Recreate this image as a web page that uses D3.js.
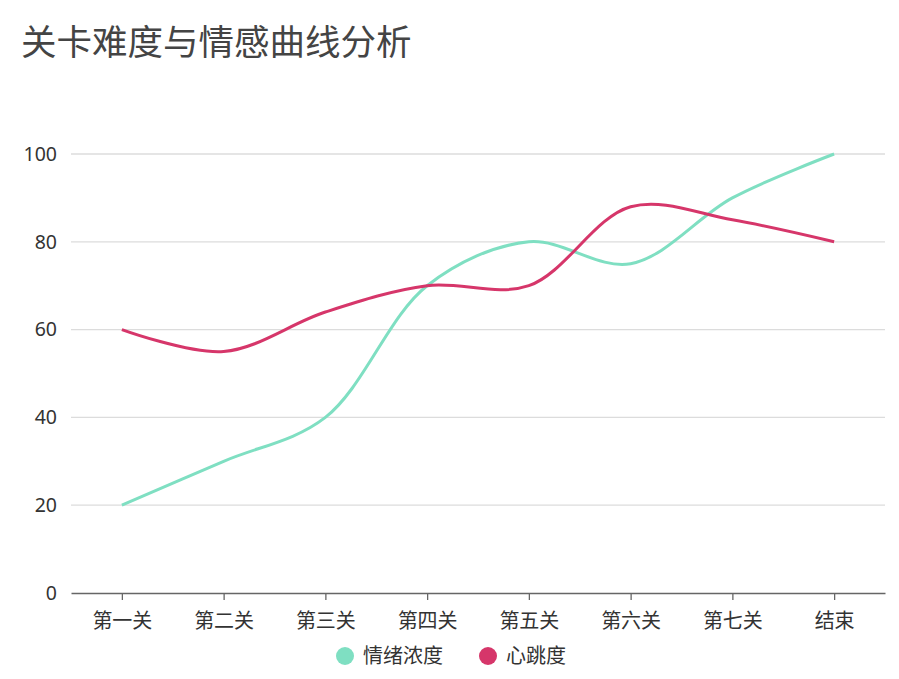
<!DOCTYPE html>
<html><head><meta charset="utf-8">
<script src="https://cdn.jsdelivr.net/npm/d3@7"></script>
<style>body{margin:0;background:#fff}svg{display:block}</style>
</head><body>
<svg id="c" width="899" height="679"></svg>
<script>
const categories = ["第一关","第二关","第三关","第四关","第五关","第六关","第七关","结束"];
const emotion = [20,30,40,70,80,75,90,100];
const heartbeat = [60,55,64,70,70,88,85,80];
const yTicks = [0,20,40,60,80,100];
const seriesNames = ["情绪浓度","心跳度"];
const colors = ["#7fdfc2","#d6366a"];

const svg = d3.select("#c");
const font = "'Noto Sans CJK SC','Noto Sans',sans-serif";
const m = {l:71, r:885, t:154, b:593};
const x = d3.scalePoint().domain(categories).range([m.l, m.r]).padding(0.5);
const y = d3.scaleLinear().domain([0,100]).range([m.b, m.t]);

svg.append("text").attr("x",21).attr("y",55).text("关卡难度与情感曲线分析")
  .attr("font-family",font).attr("font-size",35.5).attr("fill","#444");

// grid
svg.append("g").selectAll("line").data(yTicks.filter(d=>d>0)).join("line")
  .attr("x1",m.l).attr("x2",m.r).attr("y1",d=>y(d)).attr("y2",d=>y(d))
  .attr("stroke","#dcdcdc").attr("stroke-width",1.3);

const ya = svg.append("g").attr("transform",`translate(${m.l},0)`)
  .call(d3.axisLeft(y).tickValues(yTicks).tickSize(0).tickPadding(14));
ya.select(".domain").remove();
ya.selectAll("text").attr("font-family","'Noto Sans',sans-serif").attr("font-size",19.5).attr("fill","#333");

const xa = svg.append("g").attr("transform",`translate(0,${m.b})`)
  .call(d3.axisBottom(x).tickSizeOuter(0).tickSizeInner(7).tickPadding(14));
xa.select(".domain").attr("stroke","#666").attr("stroke-width",1.5);
xa.selectAll(".tick line").attr("stroke","#666").attr("stroke-width",1.3);
xa.selectAll("text").attr("font-family",font).attr("font-size",20).attr("fill","#333");

const line = d3.line().x((d,i)=>x(categories[i])).y(d=>y(d)).curve(d3.curveCatmullRom.alpha(0.5));
[emotion, heartbeat].forEach((s,k)=>{
  svg.append("path").attr("d",line(s)).attr("fill","none")
    .attr("stroke",colors[k]).attr("stroke-width",3);
});

// legend
const lg = svg.append("g");
const lx = [345, 488];
seriesNames.forEach((n,k)=>{
  lg.append("circle").attr("cx",lx[k]).attr("cy",656).attr("r",9).attr("fill",colors[k]);
  lg.append("text").attr("x",lx[k]+18).attr("y",656).attr("dy","0.35em").text(n)
    .attr("font-family",font).attr("font-size",20).attr("fill","#333");
});
</script>
</body></html>
